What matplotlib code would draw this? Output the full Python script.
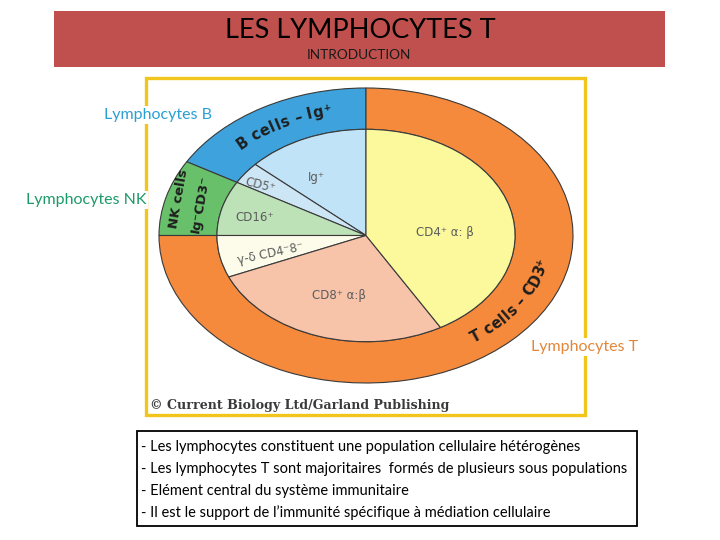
import numpy as np
import matplotlib
matplotlib.use("Agg")
import matplotlib.pyplot as plt
from matplotlib.patches import Rectangle
from matplotlib.font_manager import FontProperties

# ---- data: share of the circle (degrees), counterclockwise from the top ----
outer_names = ["B cells \u2013 Ig\u207a", "NK cells", "T cells \u2013 CD3\u207a"]
outer_values = [60, 30, 270]
outer_colors = ["#3ea3dd", "#68c16a", "#f5893c"]

inner_names = ["Ig\u207a", "CD5\u207a", "CD16\u207a",
               "\u03b3-\u03b4 CD4\u207b8\u207b", "CD8\u207a \u03b1:\u03b2", "CD4\u207a \u03b1: \u03b2"]
inner_values = [48, 12, 30, 23, 97, 150]
inner_colors = ["#c1e3f7", "#cde6f5", "#bde2b8", "#fdfcea", "#f7c4aa", "#fbf99c"]

title = "LES LYMPHOCYTES T"
subtitle = "INTRODUCTION"
side_labels = ["Lymphocytes B", "Lymphocytes NK", "Lymphocytes T"]
side_colors = ["#2a9fd4", "#1d9a6a", "#e2873a"]
bullets = [
    "- Les lymphocytes constituent une population cellulaire h\u00e9t\u00e9rog\u00e8nes",
    "- Les lymphocytes T sont majoritaires  form\u00e9s de plusieurs sous populations",
    "- El\u00e9ment central du syst\u00e8me immunitaire",
    "- Il est le support de l\u2019immunit\u00e9 sp\u00e9cifique \u00e0 m\u00e9diation cellulaire",
]
credit = "\u00a9 Current Biology Ltd/Garland Publishing"

W, H = 720, 540
fig = plt.figure(figsize=(7.2, 5.4), dpi=100)
fig.patch.set_facecolor("white")

# background layer in pixel coordinates
bg = fig.add_axes([0, 0, 1, 1])
bg.set_xlim(0, W)
bg.set_ylim(H, 0)
bg.axis("off")

bg.add_patch(Rectangle((54, 11), 611, 56, facecolor="#c0504d", edgecolor="none"))
bg.text(360, 31, title, ha="center", va="center", fontsize=19.5, family="Lato", color="black")
bg.text(359, 55, subtitle, ha="center", va="center", fontsize=9.8, family="Lato", color="#1a1a1a")

# yellow frame around the figure
bg.add_patch(Rectangle((146, 78), 439, 337, facecolor="none", edgecolor="#f1c51b", linewidth=2.4))

# text box at the bottom
bg.add_patch(Rectangle((137, 431), 500, 95, facecolor="white", edgecolor="black", linewidth=1.3))
for i, line in enumerate(bullets):
    bg.text(141, 447 + 22 * i, line, ha="left", va="center", fontsize=10.5,
            family="Lato", color="black")

bg.text(150, 406, credit, ha="left", va="center", fontsize=9.1, family="DejaVu Serif",
        weight="bold", color="#3a3a3a")

# ---- the nested pie (drawn as an ellipse) ----
ax = fig.add_axes([159 / W, 1 - 383 / H, 414 / W, 295 / H])
edge = dict(edgecolor="#3a3a3a", linewidth=0.8)
ax.pie(outer_values, radius=1.0, startangle=90, colors=outer_colors,
       wedgeprops=dict(width=0.28, **edge))
ax.pie(inner_values, radius=0.72, startangle=90, colors=inner_colors, wedgeprops=edge)
ax.set_aspect("auto")
ax.set_xlim(-1, 1)
ax.set_ylim(-1, 1)
ax.axis("off")

# labels of the inner slices
inner_pos = [(-0.24, 0.39, 0), (-0.51, 0.34, -14), (-0.54, 0.12, 0),
             (-0.46, -0.12, 12), (-0.13, -0.41, 0), (0.38, 0.02, 0)]
for name, (x, y, rot) in zip(inner_names, inner_pos):
    ax.text(x, y, name, ha="center", va="center", rotation=rot, fontsize=8.5,
            color="#5c5c5c", family="DejaVu Sans")


def curved_text(ax, text, t_mid, r, size, direction=-1, color="#1e1e1e"):
    """write text along the ellipse, direction -1 = clockwise"""
    fig.canvas.draw()
    renderer = fig.canvas.get_renderer()
    fp = FontProperties(family="DejaVu Sans", weight="bold", size=size)
    a = ax.bbox.width / 2
    b = ax.bbox.height / 2
    widths = []
    for ch in text:
        if ch == " ":
            widths.append(0.32 * size * fig.dpi / 72)
        else:
            widths.append(renderer.get_text_width_height_descent(ch, fp, ismath=False)[0] + 0.6)

    def speed(t):
        return r * np.sqrt((a * np.sin(t)) ** 2 + (b * np.cos(t)) ** 2)

    t = np.radians(t_mid) - direction * (sum(widths) / 2) / speed(np.radians(t_mid))
    for ch, w in zip(text, widths):
        tc = t + direction * (w / 2) / speed(t)
        rot = np.degrees(np.arctan2(direction * b * np.cos(tc), -direction * a * np.sin(tc)))
        ax.text(r * np.cos(tc), r * np.sin(tc), ch, fontproperties=fp, color=color,
                ha="center", va="baseline", rotation=rot, rotation_mode="anchor")
        t = t + direction * w / speed(t)


curved_text(ax, outer_names[0], 119, 0.835, 10.5, direction=-1)
curved_text(ax, outer_names[2], -32, 0.895, 10.5, direction=1)
# NK cells label is written almost vertically in two lines
ax.text(-0.905, 0.25, outer_names[1], rotation=80, ha="center", va="center",
        fontsize=9.5, weight="bold", color="#1e1e1e", family="DejaVu Sans")
ax.text(-0.80, 0.215, "Ig\u207bCD3\u207b", rotation=80, ha="center", va="center",
        fontsize=9.5, weight="bold", color="#1e1e1e", family="DejaVu Sans")

# labels of the three populations, on top of everything
top = fig.add_axes([0, 0, 1, 1])
top.set_xlim(0, W)
top.set_ylim(H, 0)
top.axis("off")
top.patch.set_alpha(0)
side_pos = [(158, 115), (86, 200), (585, 347)]
for name, col, (x, y) in zip(side_labels, side_colors, side_pos):
    top.text(x, y, name, ha="center", va="center", fontsize=11.5, family="Lato",
             color=col, bbox=dict(facecolor="white", edgecolor="none", pad=1.5))

fig.savefig("out.png", dpi=100)
